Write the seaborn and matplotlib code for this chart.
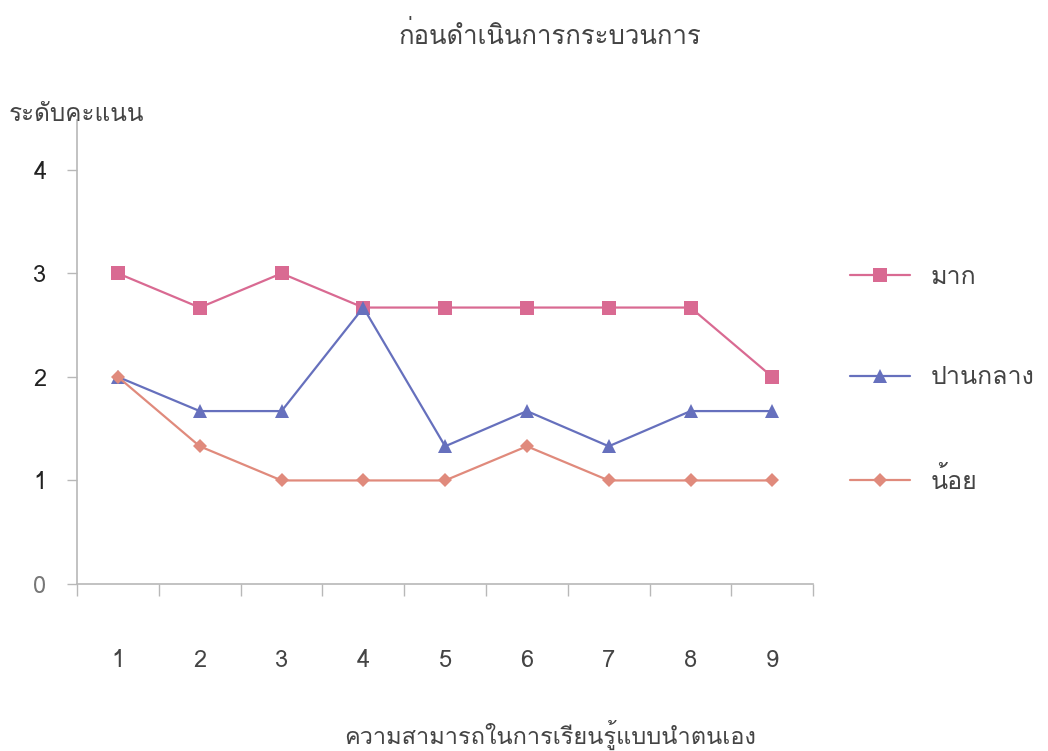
import numpy as np
import pandas as pd
import matplotlib
matplotlib.use("Agg")
import matplotlib.pyplot as plt
import seaborn as sns
from matplotlib import font_manager
from matplotlib.ticker import FixedLocator

# ---- data ----
items = ["1", "2", "3", "4", "5", "6", "7", "8", "9"]
level_high = [3.00, 2.67, 3.00, 2.67, 2.67, 2.67, 2.67, 2.67, 2.00]
level_mid = [2.00, 1.67, 1.67, 2.67, 1.33, 1.67, 1.33, 1.67, 1.67]
level_low = [2.00, 1.33, 1.00, 1.00, 1.00, 1.33, 1.00, 1.00, 1.00]
series_names = ["มาก", "ปานกลาง", "น้อย"]
y_ticks = [0, 1, 2, 3, 4]

title_text = "ก่อนดำเนินการกระบวนการ"
y_label_text = "ระดับคะแนน"
x_label_text = "ความสามารถในการเรียนรู้แบบนำตนเอง"


def find_thai_font():
    try:
        from fontTools.ttLib import TTFont
    except Exception:
        return None
    for f in font_manager.fontManager.ttflist:
        try:
            tt = TTFont(f.fname, fontNumber=0, lazy=True)
            cmap = tt.getBestCmap()
        except Exception:
            continue
        if cmap and 0x0E01 in cmap and 0x0E32 in cmap:
            return f.name
    return None


sns.set_theme(style="white")
thai = find_thai_font()
families = ([thai] if thai else []) + ["DejaVu Sans"]
plt.rcParams["font.family"] = families

df = pd.DataFrame({
    "pos": list(range(len(items))) * 3,
    "score": level_high + level_mid + level_low,
    "level": sum([[n] * len(items) for n in series_names], []),
})

colors = {"มาก": "#d96a92", "ปานกลาง": "#6670bd", "น้อย": "#e08a7c"}
markers = {"มาก": "s", "ปานกลาง": "^", "น้อย": "D"}

fig = plt.figure(figsize=(10.48, 7.51), dpi=100)
ax = fig.add_axes([0.0735, 0.2224, 0.7025, 0.6176])

sns.lineplot(data=df, x="pos", y="score", hue="level", style="level",
             hue_order=series_names, style_order=series_names,
             palette=colors, markers=markers, dashes=False,
             markersize=10, linewidth=1.6, markeredgewidth=0,
             ax=ax)

# slightly smaller diamonds for the lowest level
for line in ax.get_lines():
    if line.get_marker() == "D":
        line.set_markersize(7)

ax.set_xlim(-0.5, len(items) - 0.5)
ax.set_ylim(0, 4.48)

# category boundaries carry the tick marks, labels sit at the centres
ax.xaxis.set_major_locator(FixedLocator(range(len(items))))
ax.set_xticklabels(items)
ax.xaxis.set_minor_locator(FixedLocator(np.arange(-0.5, len(items), 1.0)))
ax.tick_params(axis="x", which="major", length=0, pad=47,
               labelsize=17, labelcolor="#444444")
ax.tick_params(axis="x", which="minor", length=8.5, width=1,
               color="#b8b8b8", direction="out", bottom=True)

ax.set_yticks(y_ticks)
ax.tick_params(axis="y", which="major", length=7, width=1,
               color="#b8b8b8", direction="out", left=True, pad=15,
               labelsize=17, labelcolor="#222222")
ax.get_yticklabels()[0].set_color("#777777")

for s in ["top", "right"]:
    ax.spines[s].set_visible(False)
for s in ["left", "bottom"]:
    ax.spines[s].set_color("#b8b8b8")
    ax.spines[s].set_linewidth(1.2)

ax.set_xlabel("")
ax.set_ylabel("")

fig.text(0.525, 0.953, title_text, ha="center", va="center",
         fontsize=18.5, color="#444444")
fig.text(0.008, 0.847, y_label_text, ha="left", va="center",
         fontsize=17.5, color="#444444")
fig.text(0.525, 0.021, x_label_text, ha="center", va="center",
         fontsize=17, color="#444444")

handles, labels = ax.get_legend_handles_labels()
for h in handles:
    if h.get_marker() == "D":
        h.set_markersize(7)
ax.legend(handles, labels, loc="upper left", bbox_to_anchor=(0.790, 0.676),
          bbox_transform=fig.transFigure, frameon=False,
          handlelength=2.4, handletextpad=0.8, labelspacing=3.1,
          fontsize=18, labelcolor="#444444")

fig.savefig("out.png", dpi=100, facecolor="white")
